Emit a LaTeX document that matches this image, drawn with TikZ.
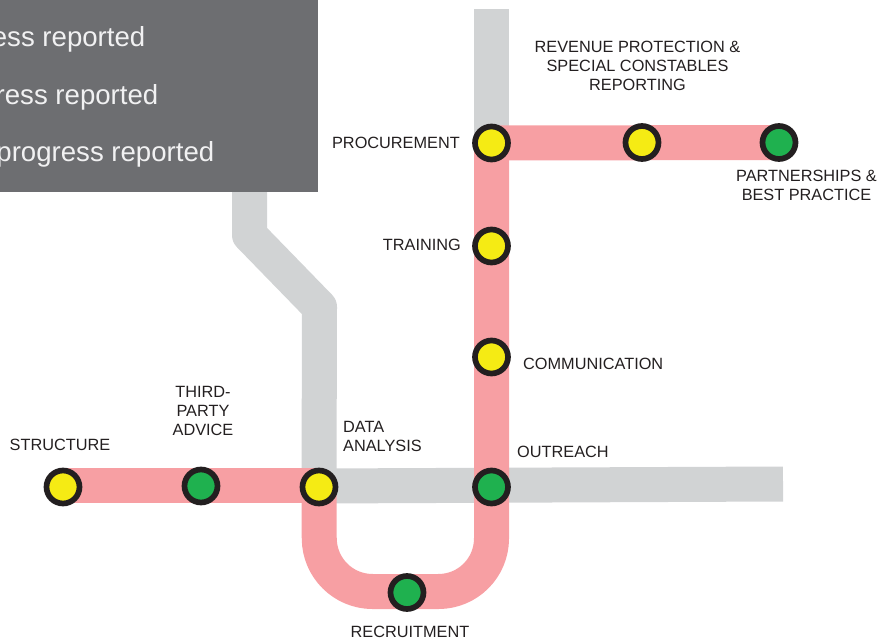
\documentclass[tikz,border=0pt]{standalone}
\usepackage{fontspec}
\setmainfont{Liberation Sans}
\definecolor{linegrey}{HTML}{D1D3D4}
\definecolor{linepink}{HTML}{F79FA3}
\definecolor{boxgrey}{HTML}{6D6E71}
\definecolor{boxtext}{HTML}{F1F1F2}
\definecolor{ringdark}{HTML}{231F20}
\definecolor{stopyellow}{HTML}{F5EB14}
\definecolor{stopgreen}{HTML}{1FB14F}
\tikzset{
  stopnode/.style={circle, draw=ringdark, line width=5.7pt, minimum size=33pt, inner sep=0pt},
  stoplabel/.style={text=ringdark, font=\fontsize{16.3}{19}\selectfont, align=center, inner sep=0pt},
  boxlabel/.style={text=boxtext, font=\fontsize{27.6}{32}\selectfont, anchor=base east, inner sep=0pt},
  greyline/.style={draw=linegrey, line width=35pt, line join=round},
  pinkline/.style={draw=linepink, line width=35pt, line join=round}
}

\begin{document}
\begin{tikzpicture}[x=1pt, y=-1pt]
            \useasboundingbox (0,0) rectangle (880,639);

            % stops, drawn later on top of the lines
            \coordinate (greytop) at (491.5,9);
            \coordinate (greyend) at (783,484);
            \coordinate (greystart) at (319,486);
            \coordinate (pinkstart) at (63,485.5);
            \coordinate (pinkend) at (319,485.5);
            \coordinate (bendA) at (249.5,235);
            \coordinate (bendB) at (319.5,307);
            \coordinate (boxfoot) at (249.5,180);
            \coordinate (cornerL) at (319.5,591.5);
            \coordinate (cornerR) at (491.5,591.5);

            \foreach \name/\x/\y in {structure/63/487, advice/201/486, analysis/319/487, outreach/491.5/487,
                recruitment/407/592.5, communication/491.5/357, training/491.5/246, procurement/491.5/143,
                revenue/642/142.5, partnerships/779/142.5} {
                \coordinate (c\name) at (\x,\y);
            }

            \draw[greyline] (cprocurement) -- (greytop);
            \draw[greyline] (boxfoot) -- (bendA) -- (bendB) -- (canalysis);
            \draw[greyline] (greystart) -- (greyend);
            \draw[pinkline] (pinkstart) -- (pinkend);
            \draw[pinkline, rounded corners=53pt] (canalysis) -- (cornerL) -- (cornerR) -- (cprocurement);
            \draw[pinkline] (cprocurement) -- (cpartnerships);

            \foreach \name/\col in {structure/stopyellow, advice/stopgreen, analysis/stopyellow, outreach/stopgreen,
                recruitment/stopgreen, communication/stopyellow, training/stopyellow, procurement/stopyellow,
                revenue/stopyellow, partnerships/stopgreen} {
                \node[stopnode, fill=\col] (\name) at (c\name) {};
            }

            \node[stoplabel] (tstructure) at (60,444.5) {STRUCTURE};
            \node[stoplabel] (tadvice) at (203,410.5) {THIRD-\\PARTY\\ADVICE};
            \node[stoplabel, anchor=west, align=left] (tanalysis) at (343,436) {DATA\\ANALYSIS};
            \node[stoplabel, anchor=west] (toutreach) at (517,451.5) {OUTREACH};
            \node[stoplabel] (trecruitment) at (410,631.5) {RECRUITMENT};
            \node[stoplabel, anchor=west] (tcommunication) at (523,363.5) {COMMUNICATION};
            \node[stoplabel, anchor=east] (ttraining) at (461,244.5) {TRAINING};
            \node[stoplabel, anchor=east] (tprocurement) at (460,142.5) {PROCUREMENT};
            \node[stoplabel] (trevenue) at (637.5,65.5) {REVENUE PROTECTION \&\\SPECIAL CONSTABLES\\REPORTING};
            \node[stoplabel] (tpartnerships) at (806.5,185) {PARTNERSHIPS \&\\BEST PRACTICE};

            \fill[boxgrey] (0,0) rectangle (318,192);
            \begin{scope}
                \clip (0,0) rectangle (318,192);
                \node[boxlabel] (first) at (145.5,47) {ess reported};
                \node[boxlabel] (second) at (158.5,105) {ress reported};
                \node[boxlabel] (third) at (214.5,162) {progress reported};
            \end{scope}

        \end{tikzpicture}
\end{document}
